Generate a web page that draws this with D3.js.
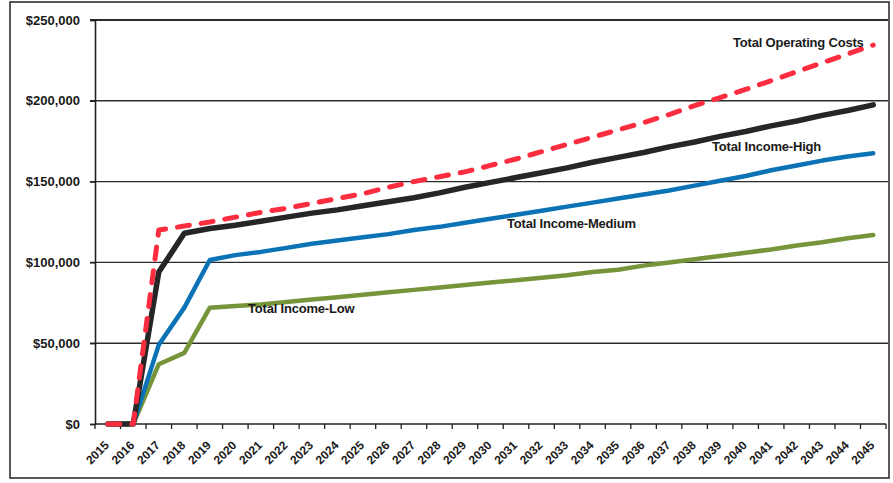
<!DOCTYPE html>
<html>
<head>
<meta charset="utf-8">
<script src="https://cdn.jsdelivr.net/npm/d3@7"></script>
<style>
  html, body { margin: 0; padding: 0; background: #fff; }
  svg { display: block; }
  text { font-family: "Liberation Sans", Arial, sans-serif; font-weight: bold; fill: #1a1a1a; }
</style>
</head>
<body>
<div id="chart"></div>
<script>
// Category labels (years)
const years = ["2015","2016","2017","2018","2019","2020","2021","2022","2023","2024",
  "2025","2026","2027","2028","2029","2030","2031","2032","2033","2034","2035",
  "2036","2037","2038","2039","2040","2041","2042","2043","2044","2045"];

// Series values, dollars per year
const operatingCosts = [0,0,120000,122500,125000,128000,131000,133500,136500,139500,
  142500,146500,150000,153000,156000,160000,164000,168500,173000,177500,182000,
  186500,191500,197000,202000,207000,212500,218000,223500,229000,234500];
const incomeHigh = [0,0,94000,118000,121000,123000,125500,128000,130500,132500,
  135000,137500,140000,143000,146500,149500,152500,155500,158500,162000,165000,
  168000,171500,174500,178000,181000,184500,187500,191000,194000,197500];
const incomeMedium = [0,0,49000,72000,101500,104500,106500,109000,111500,113500,
  115500,117500,120000,122000,124500,127000,129500,132000,134500,137000,139500,
  142000,144500,147500,150500,153500,157000,160000,163000,165500,167500];
const incomeLow = [0,0,37000,44000,72000,73000,74000,75500,77000,78500,
  80000,81500,83000,84500,86000,87500,89000,90500,92000,94000,95500,
  98000,100000,102000,104000,106000,108000,110500,112500,115000,117000];

// Value axis ticks
const yTicks = [0, 50000, 100000, 150000, 200000, 250000];

// Series labels placed beside the lines
const seriesLabels = ["Total Operating Costs", "Total Income-High", "Total Income-Medium", "Total Income-Low"];

const W = 893, H = 483;
const plot = { left: 95, right: 886, top: 20, bottom: 424 };

const svg = d3.select("#chart").append("svg")
  .attr("width", W).attr("height", H);

// outer frame
svg.append("rect")
  .attr("x", 10).attr("y", 2).attr("width", 879).attr("height", 476)
  .attr("fill", "none").attr("stroke", "#222").attr("stroke-width", 1.5);

const band = d3.scaleBand().domain(years).range([plot.left, plot.right]).padding(0);
const x = d3.scalePoint().domain(years).range([plot.left, plot.right]).padding(0.5);
const y = d3.scaleLinear().domain([0, 250000]).range([plot.bottom, plot.top]);

// horizontal gridlines
svg.append("g").selectAll("line").data(yTicks.filter(d => d > 0)).join("line")
  .attr("x1", plot.left - 5).attr("x2", plot.right + 2)
  .attr("y1", d => y(d)).attr("y2", d => y(d))
  .attr("stroke", "#2b2b2b").attr("stroke-width", d => d === 250000 ? 2 : 1.4);

// value axis
const yAxis = svg.append("g").attr("transform", `translate(${plot.left},0)`)
  .call(d3.axisLeft(y).tickValues(yTicks).tickSize(5).tickPadding(10)
    .tickFormat(d => "$" + d3.format(",")(d)));
yAxis.select(".domain").attr("stroke", "#222").attr("stroke-width", 1.6);
yAxis.selectAll(".tick line").attr("stroke", "#222").attr("stroke-width", 1.4);
yAxis.selectAll(".tick text").attr("font-size", 13).attr("fill", "#1a1a1a")
  .attr("font-family", "'Liberation Sans', Arial, sans-serif").attr("font-weight", "bold");

// category axis: tick marks between categories, labels at category centers
const xAxis = svg.append("g").attr("transform", `translate(0,${plot.bottom})`);
xAxis.append("line")
  .attr("x1", plot.left).attr("x2", plot.right)
  .attr("stroke", "#222").attr("stroke-width", 1.6);
xAxis.selectAll("line.tick").data(years.concat(["end"])).join("line")
  .attr("class", "tick")
  .attr("x1", d => d === "end" ? plot.right : band(d))
  .attr("x2", d => d === "end" ? plot.right : band(d))
  .attr("y1", 0).attr("y2", 5)
  .attr("stroke", "#222").attr("stroke-width", 1.3);
xAxis.selectAll("text").data(years).join("text")
  .attr("transform", d => `translate(${x(d) + 2},${22}) rotate(-45)`)
  .attr("text-anchor", "end")
  .attr("font-size", 12)
  .text(d => d);

// series lines
const line = d3.line()
  .x((d, i) => x(years[i]))
  .y(d => y(d));

const series = [
  { values: incomeLow,      color: "#76943a", width: 4.5, dash: null },
  { values: incomeMedium,   color: "#0b73b5", width: 4.5, dash: null },
  { values: incomeHigh,     color: "#262626", width: 5.5, dash: null },
  { values: operatingCosts, color: "#fb2d3f", width: 5,   dash: "12,12" }
];

svg.append("g").selectAll("path").data(series).join("path")
  .attr("d", d => line(d.values))
  .attr("fill", "none")
  .attr("stroke", d => d.color)
  .attr("stroke-width", d => d.width)
  .attr("stroke-linejoin", "round")
  .attr("stroke-linecap", "round")
  .attr("stroke-dasharray", d => d.dash);

// series labels
const labelPos = [
  { x: 733, y: 47 },
  { x: 712, y: 151 },
  { x: 507, y: 228 },
  { x: 248, y: 313 }
];
svg.append("g").selectAll("text").data(seriesLabels).join("text")
  .attr("x", (d, i) => labelPos[i].x)
  .attr("y", (d, i) => labelPos[i].y)
  .attr("font-size", 13)
  .attr("letter-spacing", -0.2)
  .text(d => d);
</script>
</body>
</html>
